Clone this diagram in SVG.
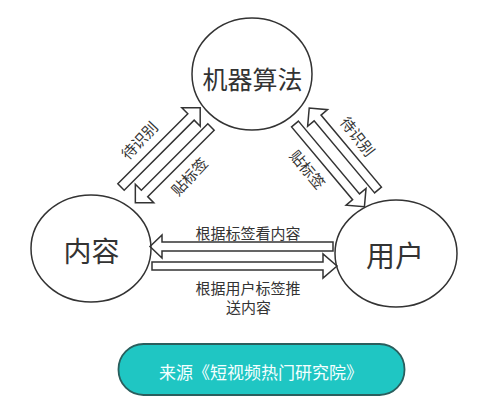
<svg xmlns="http://www.w3.org/2000/svg" width="500" height="404" viewBox="0 0 500 404">
<style>
.node ellipse{fill:none;stroke:#333;stroke-width:1.5}
.arr path{fill:#fff;stroke:#333;stroke-width:1.5;stroke-linejoin:miter}
text{font-family:"Noto Sans CJK SC","Noto Sans",sans-serif;fill:#333;text-anchor:middle}
.big{font-size:26px}
.lbl{font-size:15px}
.src{font-size:17px;fill:#f4ffff}
</style>
<rect width="500" height="404" fill="#fff"/>
<g id="connectors" class="arr">
<path transform="translate(121,187) rotate(-45)" d="M0,-4.5 H99 V-13 L112,0 L99,13 V4.5 H0 Z"/>
<path transform="translate(211,127) rotate(135)" d="M0,-4.5 H94 V-13 L107,0 L94,13 V4.5 H0 Z"/>
<path transform="translate(378,190) rotate(230)" d="M0,-4.5 H94 V-13 L107,0 L94,13 V4.5 H0 Z"/>
<path transform="translate(295,124) rotate(50)" d="M0,-4.5 H95 V-13 L108,0 L95,13 V4.5 H0 Z"/>
<path transform="translate(333,246.5) rotate(180)" d="M0,-4.5 H171 V-11.5 L183,0 L171,11.5 V4.5 H0 Z"/>
<path transform="translate(152,266)" d="M0,-4 H171 V-12 L185,0 L171,12 V4 H0 Z"/>
<text class="lbl" transform="translate(140,141) rotate(-47)" dy="5">待识别</text>
<text class="lbl" transform="translate(190,177) rotate(-47)" dy="5">贴标签</text>
<text class="lbl" transform="translate(357,137) rotate(52)" dy="5">待识别</text>
<text class="lbl" transform="translate(307,170) rotate(50)" dy="5">贴标签</text>
<text class="lbl" x="248" y="238.5">根据标签看内容</text>
<text class="lbl" x="248" y="293.5">根据用户标签推</text>
<text class="lbl" x="248.5" y="312.5">送内容</text>
</g>
<g id="node-algo" class="node">
<ellipse cx="252" cy="74" rx="60" ry="56"/>
<text class="big" x="252.5" y="89" style="font-size:25px">机器算法</text>
</g>
<g id="node-content" class="node">
<ellipse cx="91" cy="248.5" rx="60" ry="53.5"/>
<text class="big" x="91.5" y="262" style="font-size:28px">内容</text>
</g>
<g id="node-user" class="node">
<ellipse cx="396" cy="253.5" rx="61" ry="53.5"/>
<text class="big" x="395" y="267" style="font-size:29px">用户</text>
</g>
<g id="node-source">
<rect x="118.5" y="344" width="286" height="51" rx="25" fill="#1fc6c3" stroke="#2a5e5d" stroke-width="1.8"/>
<text class="src" x="261" y="379">来源《短视频热门研究院》</text>
</g>
</svg>
